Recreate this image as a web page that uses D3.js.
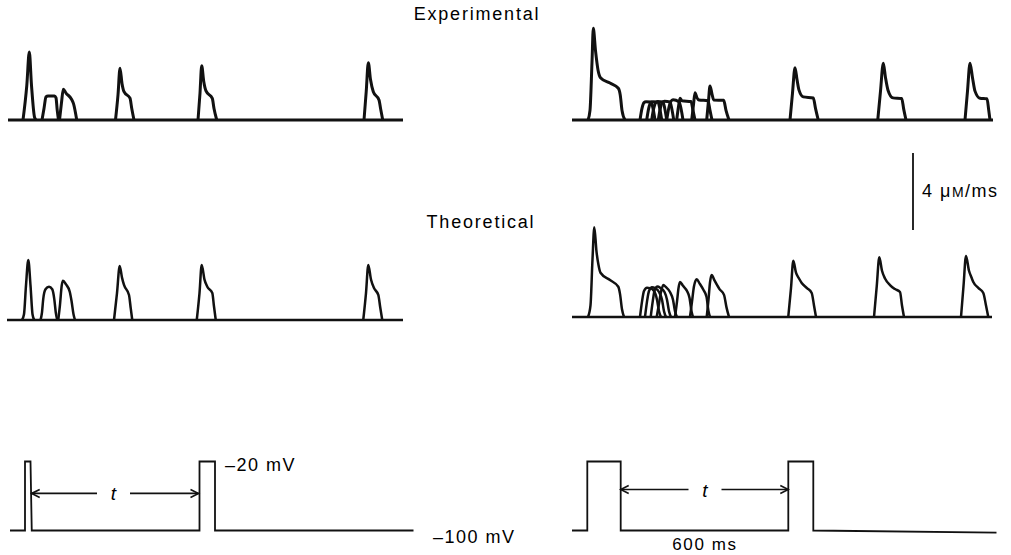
<!DOCTYPE html>
<html>
<head>
<meta charset="utf-8">
<script src="https://cdn.jsdelivr.net/npm/d3@7/dist/d3.min.js"></script>
<style>
body { margin: 0; background: #fff; }
text { font-family: "Liberation Sans", Arial, sans-serif; fill: #000; }
</style>
</head>
<body>
<div id="fig"></div>
<script>
// figure size
var width = 1011
var height = 555

// ---- data: Ca release rate (uM/ms) vs time (ms), one array per sweep ----
// experimental, short conditioning pulse
var expLeftSweeps = [
  [[300,0],[376,1.8],[426,3.53],[470,1.8],[530,0.15],[560,0]],
  [[680,0],[720,0.6],[760,1.2],[800,1.25],[930,1.25],[960,1.15],[985,0.5],[1010,0]],
  [[1030,0],[1070,0.9],[1106,1.6],[1160,1.4],[1270,1.08],[1310,0.85],[1375,0]],
  [[2150,0],[2200,1.3],[2240,2.69],[2280,1.9],[2320,1.47],[2440,1.13],[2475,0.6],[2520,0]],
  [[3800,0],[3840,1.4],[3874,2.82],[3915,2.0],[3960,1.51],[4086,1.12],[4120,0.6],[4175,0]],
  [[7120,0],[7165,1.5],[7206,2.98],[7250,2.1],[7306,1.47],[7420,1.04],[7455,0.55],[7495,0]]
]
var expLeftEnd = 7900

// experimental, 600 ms conditioning pulse
var expRightSweeps = [
  [[320,0],[360,0.5],[400,3.0],[426,4.76],[470,3.6],[520,2.6],[570,2.2],[760,1.92],[926,1.65],[965,1.3],[1000,0.5],[1060,0]],
  [[1360,0],[1400,0.6],[1440,0.9],[1480,0.95],[1580,0.93],[1620,0.6],[1660,0]],
  [[1494,0],[1534,0.6],[1574,0.9],[1614,0.95],[1720,0.93],[1755,0.6],[1795,0]],
  [[1594,0],[1634,0.6],[1674,0.9],[1714,0.96],[1820,0.94],[1855,0.6],[1895,0]],
  [[1726,0],[1766,0.6],[1806,0.92],[1850,0.98],[1960,0.94],[1995,0.6],[2035,0]],
  [[1894,0],[1934,0.6],[1974,0.95],[2020,1.05],[2140,0.95],[2180,0.6],[2220,0]],
  [[2094,0],[2130,0.7],[2160,1.13],[2200,1.0],[2380,0.96],[2420,0.5],[2460,0]],
  [[2394,0],[2430,0.8],[2460,1.42],[2500,1.15],[2540,1.04],[2720,1.0],[2760,0.5],[2800,0]],
  [[2694,0],[2730,1.0],[2760,1.77],[2800,1.35],[2834,1.04],[3034,1.02],[3080,0.5],[3140,0]],
  [[4360,0],[4410,1.4],[4460,2.72],[4500,2.1],[4540,1.55],[4626,1.2],[4826,1.14],[4870,0.6],[4925,0]],
  [[6115,0],[6170,1.5],[6226,2.95],[6270,2.2],[6320,1.55],[6420,1.15],[6594,1.12],[6635,0.55],[6680,0]],
  [[7860,0],[7910,1.5],[7960,2.95],[8010,2.2],[8060,1.5],[8160,1.13],[8300,1.1],[8335,0.5],[8360,0]]
]
var expRightEnd = 8420

// theoretical, short conditioning pulse
var theoLeftSweeps = [
  [[300,0],[340,0.3],[380,1.8],[426,3.12],[470,1.8],[510,0.3],[545,0]],
  [[670,0],[700,0.4],[725,1.1],[770,1.6],[840,1.73],[905,1.6],[945,1.1],[975,0.4],[1005,0]],
  [[1025,0],[1060,0.8],[1095,1.8],[1120,2.04],[1180,1.85],[1255,1.47],[1290,1.0],[1330,0.3],[1360,0]],
  [[2140,0],[2200,1.4],[2254,2.81],[2300,2.2],[2340,1.82],[2440,1.3],[2475,0.6],[2505,0]],
  [[3795,0],[3850,1.4],[3894,2.86],[3950,2.1],[4006,1.73],[4106,1.4],[4140,0.7],[4175,0]],
  [[7125,0],[7180,1.4],[7226,2.86],[7280,2.1],[7340,1.66],[7426,1.3],[7465,0.65],[7505,0]]
]
var theoLeftEnd = 7920

// theoretical, 600 ms conditioning pulse
var theoRightSweeps = [
  [[320,0],[370,0.6],[410,3.0],[446,4.66],[490,3.4],[530,2.7],[570,2.3],[760,1.92],[926,1.57],[960,1.2],[1000,0.4],[1040,0]],
  [[1360,0],[1400,0.8],[1440,1.35],[1500,1.52],[1560,1.5],[1640,1.35],[1700,0.9],[1740,0.3],[1780,0]],
  [[1460,0],[1500,0.8],[1540,1.35],[1600,1.55],[1660,1.5],[1740,1.3],[1800,0.9],[1840,0.3],[1880,0]],
  [[1574,0],[1614,0.8],[1654,1.4],[1710,1.58],[1770,1.5],[1850,1.3],[1900,0.9],[1940,0.3],[1980,0]],
  [[1694,0],[1734,0.6],[1780,1.3],[1826,1.66],[1880,1.55],[1960,1.3],[2020,0.9],[2060,0.3],[2100,0]],
  [[2060,0],[2100,0.8],[2130,1.5],[2160,1.82],[2220,1.62],[2300,1.35],[2350,1.0],[2390,0.3],[2420,0]],
  [[2360,0],[2400,0.8],[2440,1.6],[2494,1.96],[2550,1.75],[2630,1.4],[2690,1.05],[2730,0.3],[2760,0]],
  [[2694,0],[2730,0.9],[2760,1.8],[2794,2.18],[2850,1.9],[2950,1.45],[3040,1.15],[3090,0.5],[3140,0]],
  [[4325,0],[4380,1.5],[4426,2.92],[4480,2.3],[4540,2.0],[4594,1.77],[4700,1.5],[4794,1.25],[4840,0.6],[4880,0]],
  [[6040,0],[6095,1.6],[6146,3.1],[6200,2.4],[6260,2.0],[6360,1.66],[6460,1.45],[6560,1.3],[6600,0.6],[6640,0]],
  [[7780,0],[7830,1.6],[7880,3.17],[7940,2.4],[7990,2.05],[8026,1.82],[8130,1.5],[8226,1.25],[8280,0.6],[8326,0]]
]
var theoRightEnd = 8400

// voltage protocols (ms, mV)
var protoLeft = [[40,-100],[340,-100],[340,-20],[450,-20],[475,-100],[3830,-100],[3830,-20],[4140,-20],[4140,-100],[8110,-100]]
var protoRight = [[0,-100],[306,-100],[306,-20],[974,-20],[974,-100],[4326,-100],[4326,-20],[4826,-20],[4826,-100],[8490,-102.5]]

// "t" interval arrows: [start, end of left shaft, start of right shaft, end] in ms, and level in mV
var tArrowLeft = [474, 1780, 2440, 3810]
var tArrowRight = [974, 2330, 2990, 4326]
var tLevelLeft = -57
var tLevelRight = -52.5

// scale bar value
var scaleBarValue = 4

// ---- scales ----
var x = d3.scaleLinear().domain([0, 8500]).range([0, 425])
var rate = d3.scaleLinear().domain([0, 4]).range([0, -77])
var mv = d3.scaleLinear().domain([-100, -20]).range([0, -69])

var svg = d3.select("#fig")
  .append("svg")
  .attr("width", width)
  .attr("height", height)

svg.append("defs").append("marker")
  .attr("id", "arr")
  .attr("viewBox", "-10 -6 12 12")
  .attr("refX", 0).attr("refY", 0)
  .attr("markerWidth", 12).attr("markerHeight", 12)
  .attr("markerUnits", "userSpaceOnUse")
  .attr("orient", "auto-start-reverse")
  .append("path")
  .attr("d", "M-8,-4L0,0L-8,4")
  .attr("fill", "none")
  .attr("stroke", "#111")
  .attr("stroke-width", 1.6)

var rateLine = d3.line()
  .x(function(d) { return x(d[0]) })
  .y(function(d) { return rate(d[1]) })
  .curve(d3.curveMonotoneX)

var mvLine = d3.line()
  .x(function(d) { return x(d[0]) })
  .y(function(d) { return mv(d[1]) })

// panel placement
var panels = [
  {sweeps: expLeftSweeps, end: expLeftEnd, tx: 8, ty: 120, sw: 3},
  {sweeps: expRightSweeps, end: expRightEnd, tx: 572, ty: 120, sw: 3},
  {sweeps: theoLeftSweeps, end: theoLeftEnd, tx: 7, ty: 320, sw: 2.5},
  {sweeps: theoRightSweeps, end: theoRightEnd, tx: 572, ty: 317, sw: 2.5}
]

panels.forEach(function(p) {
  var g = svg.append("g").attr("transform", "translate(" + p.tx + "," + p.ty + ")")
  // baseline
  g.append("path")
    .attr("d", rateLine([[0, 0], [p.end, 0]]))
    .attr("fill", "none")
    .attr("stroke", "#111")
    .attr("stroke-width", p.sw)
  g.selectAll(".sweep")
    .data(p.sweeps)
    .enter()
    .append("path")
    .attr("class", "sweep")
    .attr("d", rateLine)
    .attr("fill", "none")
    .attr("stroke", "#111")
    .attr("stroke-width", p.sw)
    .attr("stroke-linejoin", "round")
})

// voltage protocols
var protos = [
  {d: protoLeft, tx: 8, ty: 530.5, arrow: tArrowLeft, lvl: tLevelLeft},
  {d: protoRight, tx: 572, ty: 530.5, arrow: tArrowRight, lvl: tLevelRight}
]
protos.forEach(function(p) {
  var g = svg.append("g").attr("transform", "translate(" + p.tx + "," + p.ty + ")")
  g.append("path")
    .attr("d", mvLine(p.d))
    .attr("fill", "none")
    .attr("stroke", "#111")
    .attr("stroke-width", 1.8)
  // arrow shafts
  g.append("line")
    .attr("x1", x(p.arrow[1])).attr("x2", x(p.arrow[0]))
    .attr("y1", mv(p.lvl)).attr("y2", mv(p.lvl))
    .attr("stroke", "#111").attr("stroke-width", 1.6)
    .attr("marker-end", "url(#arr)")
  g.append("line")
    .attr("x1", x(p.arrow[2])).attr("x2", x(p.arrow[3]))
    .attr("y1", mv(p.lvl)).attr("y2", mv(p.lvl))
    .attr("stroke", "#111").attr("stroke-width", 1.6)
    .attr("marker-end", "url(#arr)")
  g.append("text")
    .attr("x", x((p.arrow[1] + p.arrow[2]) / 2))
    .attr("y", mv(p.lvl) + 7)
    .attr("text-anchor", "middle")
    .style("font-size", "19px")
    .style("font-style", "italic")
    .text("t")
})

// scale bar
var sb = svg.append("g").attr("transform", "translate(913,230)")
sb.append("line")
  .attr("x1", 0).attr("x2", 0)
  .attr("y1", rate(0)).attr("y2", rate(scaleBarValue))
  .attr("stroke", "#111").attr("stroke-width", 1.8)
var sbText = sb.append("text")
  .attr("x", 9).attr("y", -33)
  .style("font-size", "18px")
  .style("letter-spacing", "1.5px")
sbText.append("tspan").text(scaleBarValue + " \u03bc")
sbText.append("tspan").style("font-size", "14px").text("M")
sbText.append("tspan").text("/ms")

// titles and labels
svg.append("text")
  .attr("x", 477).attr("y", 20)
  .attr("text-anchor", "middle")
  .style("font-size", "18px").style("letter-spacing", "1.8px")
  .text("Experimental")
svg.append("text")
  .attr("x", 481).attr("y", 228)
  .attr("text-anchor", "middle")
  .style("font-size", "18px").style("letter-spacing", "1.8px")
  .text("Theoretical")
svg.append("text")
  .attr("x", 225).attr("y", 471)
  .style("font-size", "18px").style("letter-spacing", "1.5px")
  .text("\u201320 mV")
svg.append("text")
  .attr("x", 433).attr("y", 543)
  .style("font-size", "18px").style("letter-spacing", "1.5px")
  .text("\u2013100 mV")
svg.append("text")
  .attr("x", 705).attr("y", 550)
  .attr("text-anchor", "middle")
  .style("font-size", "17px").style("letter-spacing", "1.6px")
  .text("600 ms")
</script>
</body>
</html>
